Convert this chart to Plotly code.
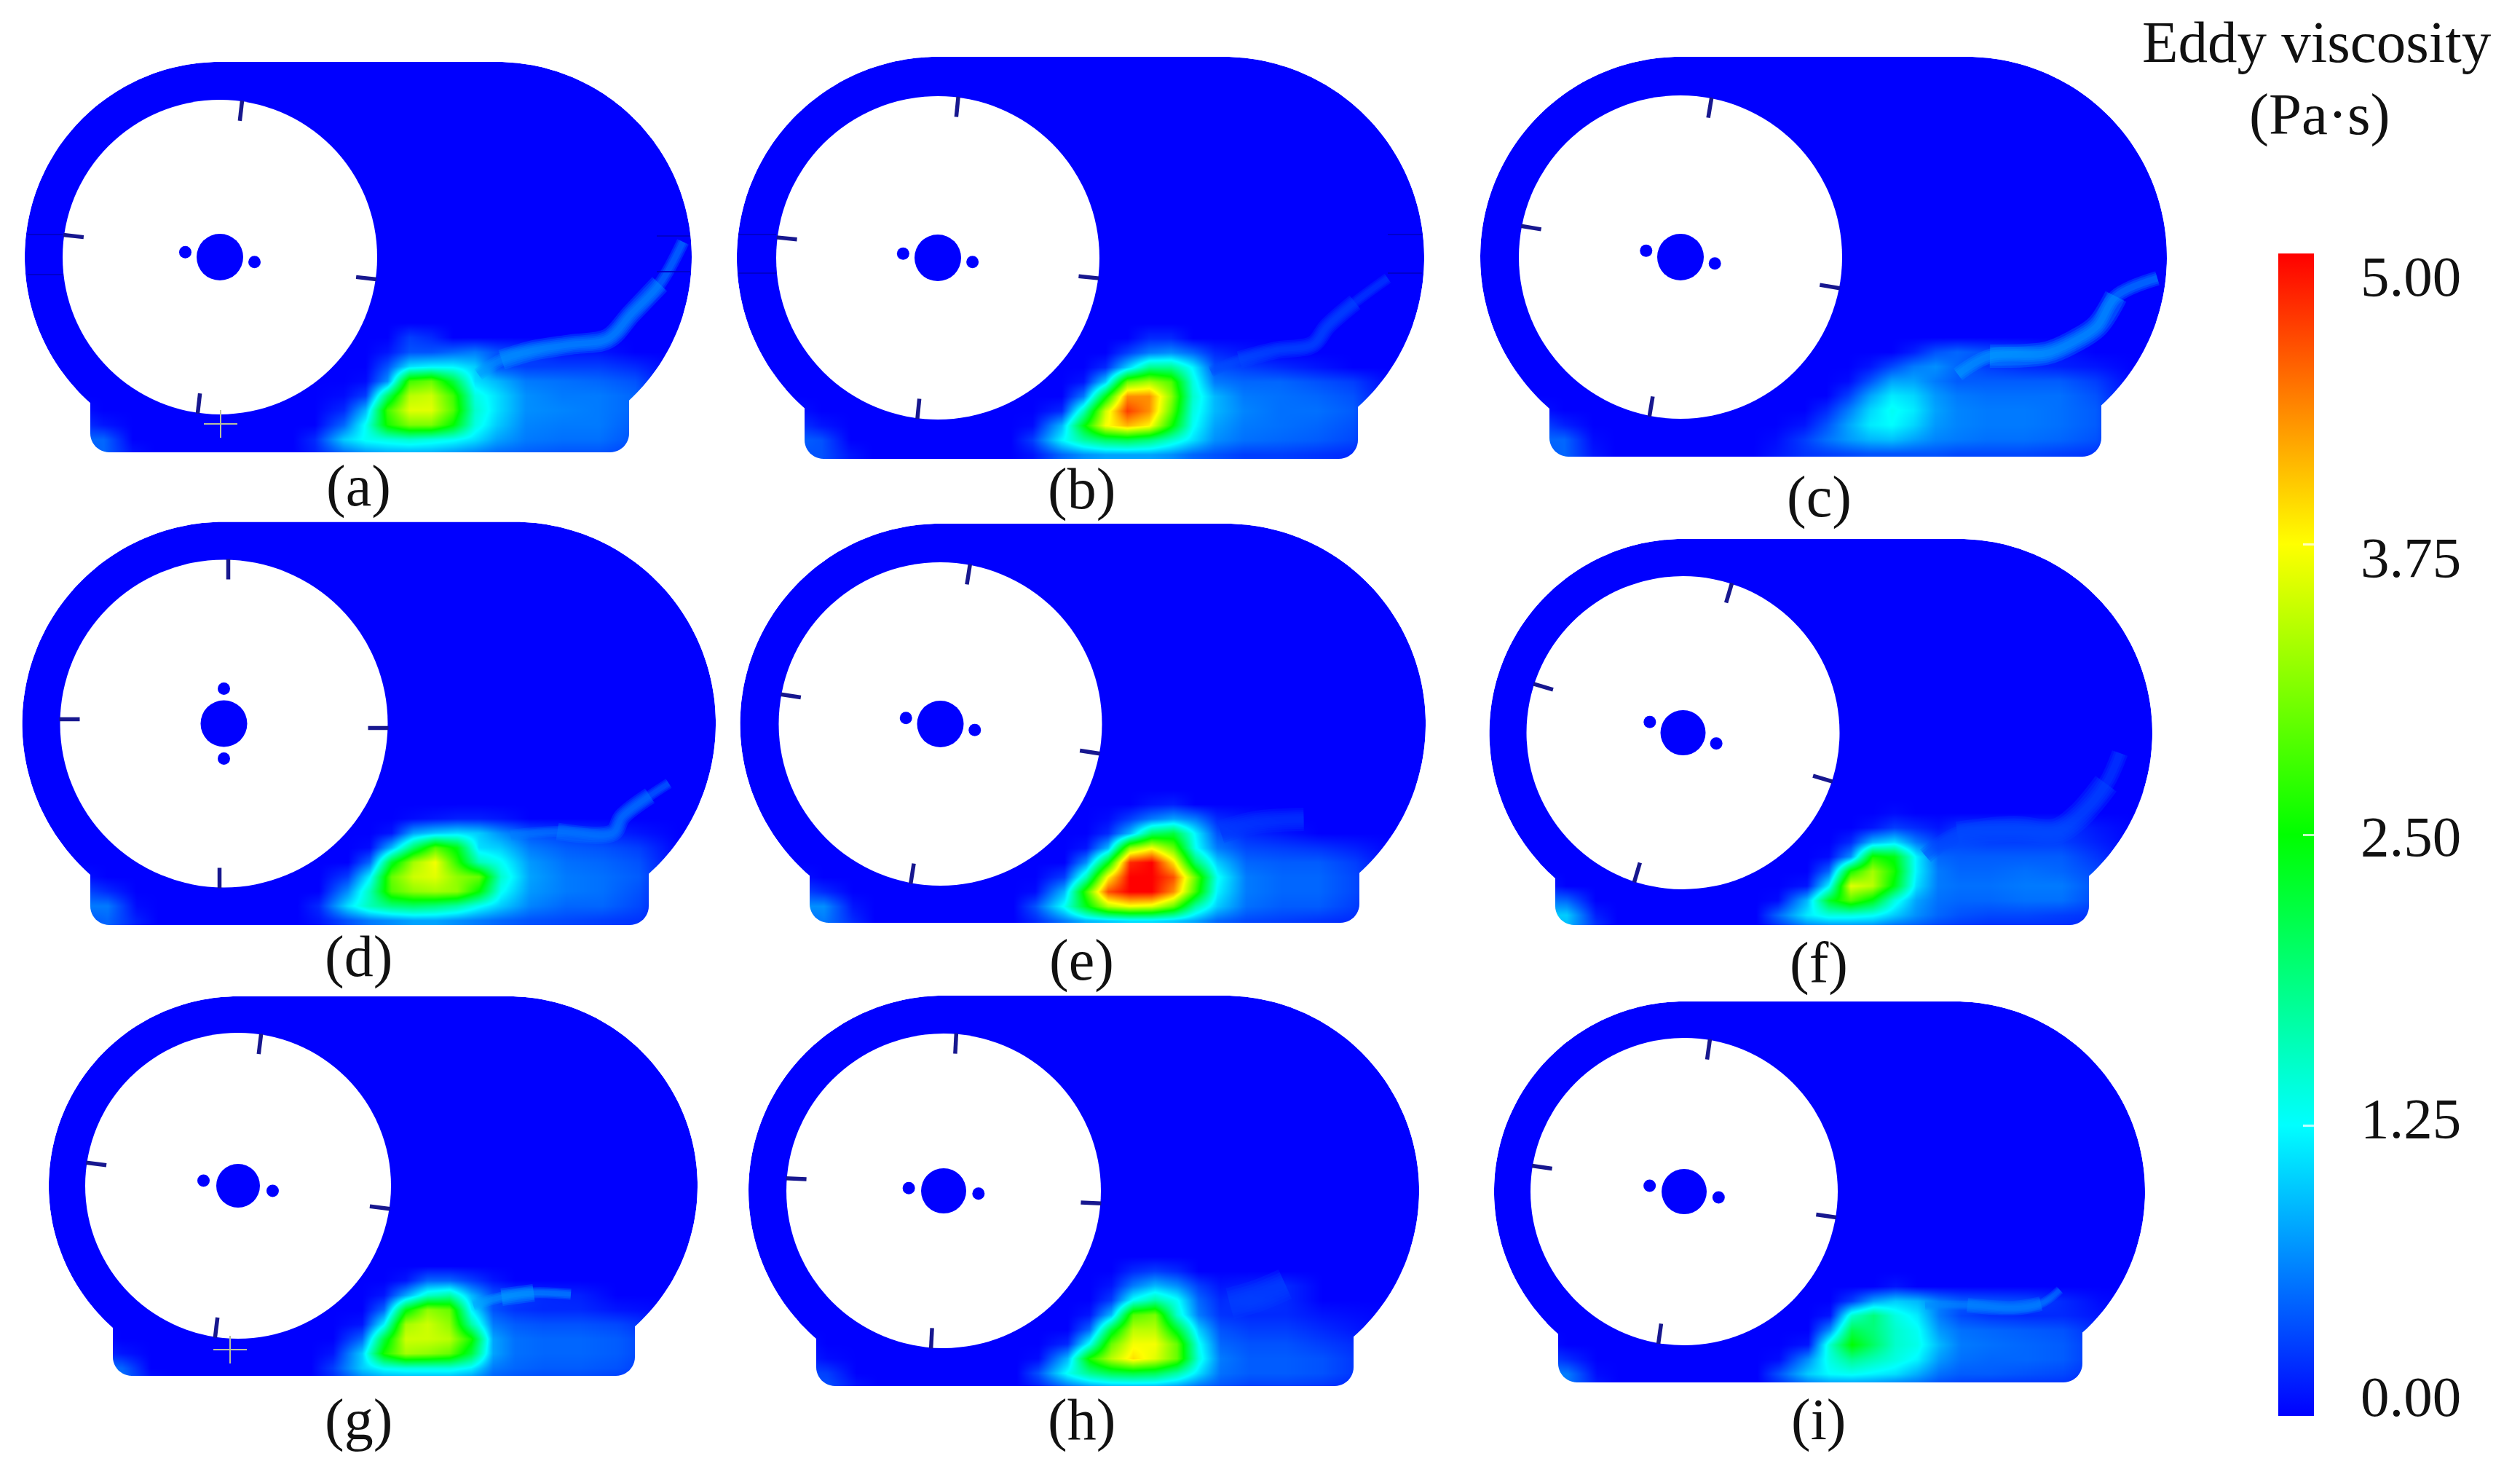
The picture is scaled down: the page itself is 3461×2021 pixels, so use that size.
import math
import plotly.graph_objects as go

# ---- data: eddy viscosity (Pa.s) ----
PANELS = ["a", "b", "c", "d", "e", "f", "g", "h", "i"]
CORE_X = [130, 170, 200, 230, 260, 290, 320, 350, 380, 420, 470, 520, 570]
CORE_Y = [110, 130, 150, 170, 190, 210, 230, 250, 270]
CORNER_X = [-200, -160, -120]
CORNER_Y = [210, 230, 250, 270]

core_a = [
    [0, 0, 0, 0, .3, .2, 0, 0, 0, 0, 0, 0, 0],
    [0, 0, 0, .1, .4, .4, .5, .6, .4, .3, .1, .1, 0],
    [0, 0, 0, .4, 1.1, 1.2, 1.2, 1.0, .4, .3, .3, .3, .2],
    [0, 0, .05, .7, 2.8, 3.0, 2.2, 1.1, .9, .6, .55, .5, .4],
    [0, .05, .3, 2.0, 3.4, 3.5, 2.8, 1.4, 1.1, .7, .6, .6, .5],
    [0, .2, .9, 2.8, 3.6, 3.6, 2.9, 1.5, 1.1, .7, .65, .6, .5],
    [0, .5, 1.3, 2.6, 3.1, 3.1, 2.5, 1.4, 1.0, .65, .6, .6, .45],
    [.2, 1.0, 1.3, 1.4, 1.5, 1.4, 1.3, 1.1, .8, .6, .55, .55, .4],
    [.15, .5, .7, .8, .8, .8, .7, .6, .5, .45, .4, .4, .3],
]
core_b = [
    [0, 0, 0, 0, 0, .2, .2, 0, 0, 0, 0, 0, 0],
    [0, 0, 0, 0, .3, .6, .7, .5, .2, .1, 0, 0, 0],
    [0, 0, 0, .2, 1.0, 1.8, 1.8, 1.2, .4, .3, .2, .1, 0],
    [0, 0, .1, 1.0, 3.0, 3.3, 2.9, 1.4, .6, .5, .5, .4, .3],
    [0, 0, .6, 2.4, 4.3, 4.3, 3.2, 1.5, .9, .6, .55, .5, .4],
    [0, .2, 1.6, 3.5, 4.7, 4.3, 3.0, 1.4, .9, .65, .55, .55, .45],
    [.05, .9, 2.4, 3.7, 4.1, 3.8, 2.6, 1.3, .8, .6, .55, .5, .4],
    [.3, 1.2, 1.7, 2.0, 2.1, 1.9, 1.5, 1.1, .7, .55, .5, .45, .35],
    [.1, .5, .7, .8, .8, .8, .7, .5, .4, .3, .3, .25, .2],
]
core_c = [
    [0, 0, 0, 0, 0, 0, 0, 0, 0, 0, 0, 0, 0],
    [0, 0, 0, 0, 0, 0, .15, .4, .5, .4, .3, .1, 0],
    [0, 0, 0, 0, .1, .35, .6, .7, .5, .3, .2, .15, .1],
    [0, 0, 0, .05, .4, .8, .8, .6, .45, .45, .45, .45, .3],
    [0, 0, 0, .3, .8, 1.15, 1.05, .75, .6, .55, .55, .55, .4],
    [0, 0, .2, .6, 1.05, 1.3, 1.15, .8, .65, .6, .6, .55, .45],
    [0, .1, .4, .8, 1.15, 1.25, 1.05, .75, .65, .6, .6, .55, .45],
    [.05, .3, .55, .75, .9, .95, .8, .65, .6, .55, .55, .5, .4],
    [.1, .25, .3, .35, .4, .4, .4, .4, .35, .35, .35, .3, .25],
]
core_d = [
    [0, 0, 0, 0, 0, 0, 0, 0, 0, 0, 0, 0, 0],
    [0, 0, 0, 0, .05, .1, .15, .15, .1, 0, 0, 0, 0],
    [0, 0, 0, .1, .8, 1.0, 1.1, 1.0, .7, .4, .3, .2, .1],
    [0, 0, .05, .9, 2.0, 2.9, 2.4, 1.1, 1.0, .6, .45, .4, .3],
    [0, 0, .5, 2.3, 3.3, 3.7, 2.7, 1.6, 1.3, .75, .55, .5, .4],
    [0, .3, 1.2, 3.0, 3.5, 3.6, 3.2, 3.0, 1.5, .8, .6, .55, .45],
    [0, .7, 1.6, 2.9, 3.2, 3.3, 3.2, 2.5, 1.3, .75, .6, .55, .4],
    [.2, 1.1, 1.6, 1.9, 2.0, 1.9, 1.7, 1.3, 1.0, .65, .5, .5, .35],
    [.1, .4, .6, .7, .8, .8, .7, .6, .5, .4, .35, .3, .25],
]
core_e = [
    [0, 0, 0, 0, 0, .1, .15, 0, 0, 0, 0, 0, 0],
    [0, 0, 0, .05, .3, .6, .8, .6, .2, .1, 0, 0, 0],
    [0, 0, 0, .2, .9, 2.0, 2.2, 1.2, .4, .2, .1, 0, 0],
    [0, 0, .1, .9, 3.2, 3.7, 3.0, 1.3, .6, .35, .3, .25, .15],
    [0, 0, .7, 2.4, 4.8, 5.0, 3.9, 2.0, 1.0, .5, .45, .45, .3],
    [0, .3, 1.6, 3.8, 5.0, 5.0, 4.6, 3.0, 1.3, .6, .5, .5, .35],
    [.05, .9, 2.8, 4.6, 5.0, 5.0, 4.3, 2.8, 1.2, .6, .5, .5, .35],
    [.4, 1.3, 2.4, 3.4, 3.7, 3.6, 3.0, 1.7, 1.0, .55, .45, .45, .3],
    [.2, .6, .9, 1.0, 1.1, 1.1, 1.0, .8, .5, .35, .3, .25, .2],
]
core_f = [
    [0, 0, 0, 0, 0, .05, 0, 0, 0, 0, 0, 0, 0],
    [0, 0, 0, 0, .1, .3, .2, .1, .25, .25, .25, .25, .1],
    [0, 0, 0, .2, .9, 1.1, .6, .3, .35, .3, .3, .3, .15],
    [0, 0, .05, .7, 2.6, 2.4, 1.2, .5, .45, .45, .45, .45, .25],
    [0, 0, .5, 2.6, 3.3, 2.6, 1.2, .6, .5, .5, .55, .5, .35],
    [0, .1, 1.2, 3.6, 3.4, 2.4, 1.1, .6, .55, .55, .6, .6, .4],
    [.05, .9, 2.3, 2.9, 2.4, 1.4, .8, .55, .5, .5, .55, .55, .35],
    [.5, 1.15, 1.4, 1.4, 1.3, 1.0, .7, .5, .4, .35, .35, .3, .25],
    [.2, .5, .5, .5, .5, .4, .4, .3, .25, .2, .2, .2, .15],
]
core_g = [
    [0, 0, 0, 0, 0, 0, 0, 0, 0, 0, 0, 0, 0],
    [0, 0, 0, .1, .5, .5, .3, .1, 0, 0, 0, 0, 0],
    [0, 0, .1, .8, 1.5, 1.7, .9, .4, .3, .2, .15, 0, 0],
    [0, 0, .5, 2.4, 3.2, 3.0, 1.2, .4, .25, .2, .2, .1, .05],
    [0, .1, 1.2, 3.3, 3.5, 3.2, 1.7, .6, .45, .4, .4, .35, .2],
    [0, .5, 2.2, 3.5, 3.5, 3.4, 2.6, .8, .55, .5, .5, .45, .3],
    [.1, 1.0, 2.6, 3.3, 3.2, 3.0, 2.2, .8, .55, .5, .5, .45, .3],
    [.3, 1.0, 1.3, 1.4, 1.4, 1.4, 1.2, .6, .5, .45, .45, .4, .25],
    [.15, .5, .6, .6, .6, .6, .5, .4, .35, .3, .3, .25, .15],
]
core_h = [
    [0, 0, 0, 0, .2, .3, .2, 0, 0, 0, 0, 0, 0],
    [0, 0, 0, .1, .6, .9, .7, .3, .1, .15, .2, 0, 0],
    [0, 0, 0, .3, 1.3, 1.7, 1.3, .5, .2, .3, .2, 0, 0],
    [0, 0, .1, .9, 2.9, 3.1, 1.5, .6, .25, .2, .2, .1, .05],
    [0, 0, .5, 2.2, 3.4, 3.4, 2.3, 1.0, .4, .3, .3, .2, .1],
    [0, .2, 1.3, 3.0, 3.7, 3.7, 3.0, 1.3, .5, .4, .4, .3, .2],
    [.05, .9, 2.6, 3.4, 3.9, 3.6, 3.0, 1.4, .6, .45, .45, .4, .25],
    [.4, 1.3, 1.8, 2.1, 2.2, 2.1, 1.7, 1.1, .55, .45, .45, .4, .25],
    [.15, .5, .7, .8, .8, .8, .7, .5, .4, .3, .3, .25, .15],
]
core_i = [
    [0, 0, 0, 0, 0, 0, 0, 0, 0, 0, 0, 0, 0],
    [0, 0, 0, 0, 0, .1, 0, 0, 0, 0, 0, 0, 0],
    [0, 0, 0, .3, .8, 1.0, .9, .6, .45, .4, .35, .2, .05],
    [0, 0, .1, 1.5, 1.9, 1.4, 1.15, .6, .35, .25, .2, .2, .1],
    [0, 0, .7, 2.1, 1.9, 1.5, 1.3, .75, .55, .5, .45, .4, .2],
    [0, .1, 1.5, 2.5, 2.0, 1.5, 1.35, .9, .6, .55, .5, .45, .25],
    [.05, .7, 1.4, 1.8, 1.6, 1.4, 1.2, .75, .55, .5, .5, .45, .25],
    [.4, 1.0, 1.25, 1.3, 1.2, 1.1, .85, .55, .45, .45, .4, .35, .2],
    [.15, .4, .5, .5, .5, .4, .4, .3, .25, .2, .2, .2, .1],
]
corner_a = [[.1, 0, 0], [.3, .1, 0], [.5, .5, 0], [.4, .5, .1]]
corner_b = [[.1, 0, 0], [.3, .1, 0], [.5, .4, 0], [.4, .4, .1]]
corner_c = [[.1, 0, 0], [.4, .15, 0], [.5, .5, .05], [.4, .5, .1]]
corner_d = [[.1, 0, 0], [.4, .2, 0], [.6, .6, .05], [.4, .5, .15]]
corner_e = [[.1, 0, 0], [.4, .2, 0], [.7, .7, .1], [.5, .6, .2]]
corner_f = [[.2, 0, 0], [.6, .5, 0], [1.0, 1.0, .15], [.8, .9, .3]]
corner_g = [[.1, 0, 0], [.3, .1, 0], [.6, .5, 0], [.5, .6, .1]]
corner_h = [[.1, 0, 0], [.2, .05, 0], [.4, .3, 0], [.4, .4, .1]]
corner_i = [[.1, 0, 0], [.4, .2, 0], [.7, .6, .05], [.5, .6, .15]]

# streak above the wake: [x offset, y offset] from the drum centre, its value and width
streak_a = [[355, 161], [387, 141], [431, 128], [482, 120], [533, 112], [565, 78], [604, 37], [636, -21]]
streak_b = [[375, 156], [414, 140], [464, 127], [515, 119], [535, 94], [573, 61], [618, 28]]
streak_c = [[381, 161], [425, 136], [502, 132], [540, 116], [572, 95], [598, 54], [655, 29]]
streak_d = [[394, 153], [458, 148], [534, 150], [547, 128], [585, 99], [611, 82]]
streak_e = [[385, 148], [435, 135], [499, 131]]
streak_f = [[333, 169], [377, 140], [454, 132], [511, 136], [543, 115], [581, 70], [600, 28]]
streak_g = [[323, 164], [362, 153], [406, 147], [457, 149]]
streak_h = [[393, 155], [431, 144], [469, 128]]
streak_i = [[331, 156], [389, 156], [452, 160], [490, 154], [516, 135]]
STREAK_VALUE = dict(a=.6, b=.3, c=.65, d=.5, e=.22, f=.3, g=.65, h=.25, i=.55)
STREAK_WIDTH = dict(a=14, b=12, c=16, d=12, e=16, f=18, g=12, h=22, i=10)

COLOR_TICKS = [0, 1.25, 2.5, 3.75, 5]
COLOR_LABELS = ["0.00", "1.25", "2.50", "3.75", "5.00"]

# ---- layout of the drawing (pixels of the 3461 x 2021 page) ----
# cx, cy, hole R, outer R, right-arc cx, sump left, sump right, bottom, blade angle, dots angle, hub R
GEOM = dict(
    a=(302, 353, 216, 268, 682, 124, 864, 621, 6.5, 8, 32),
    b=(1288, 354, 222, 276, 1680, 1105, 1865, 630, 5.7, 7, 32),
    c=(2308, 353, 222, 275, 2701, 2128, 2886, 627, 9.5, 10.5, 32),
    d=(307.5, 993.5, 225, 277, 706, 124, 891, 1270, 0, 90, 32),
    e=(1291.5, 994, 222, 275, 1683, 1112, 1867, 1267, 9, 10, 32),
    f=(2311.5, 1006, 215, 266, 2690, 2136, 2869, 1270, 16.5, 18, 31),
    g=(327, 1628, 210, 260, 698, 155, 872, 1889, 7, 8.5, 30),
    h=(1296, 1635, 216, 268, 1681, 1121, 1859, 1903, 3, 4.5, 31),
    i=(2313, 1636, 211, 261, 2685, 2140, 2860, 1898, 8, 9.5, 31),
)
LABEL_POS = dict(a=(492, 667), b=(1485, 671), c=(2498, 682), d=(492, 1313), e=(1485, 1318),
                 f=(2498, 1322), g=(492, 1949), h=(1485, 1949), i=(2498, 1949))
CROSSES = {"a": (1, 229), "g": (-11, 225)}
# faint mesh-block marks on the housing: x0, x1 of the segment, y of both edges
FAINT = {"a": [(38, 86, 322, 377), (902, 948, 324, 373)], "b": [(1014, 1066, 322, 375), (1906, 1953, 322, 375)]}
BLUE = "#0000ff"
TICK_BLUE = "#17178f"
SERIF = "Liberation Serif, Times New Roman, serif"
SCALE = [[0, "#0000ff"], [.25, "#00ffff"], [.5, "#00ff00"], [.75, "#ffff00"], [1, "#ff0000"]]
SCALE_RGB = [(0, 0, 255), (0, 255, 255), (0, 255, 0), (255, 255, 0), (255, 0, 0)]


def value_color(v):
    t = max(0, min(.9999, v / 5)) * 4
    k = int(t)
    f = t - k
    a, b = SCALE_RGB[k], SCALE_RGB[k + 1]
    return "rgb(%d,%d,%d)" % tuple(a[j] + (b[j] - a[j]) * f for j in range(3))


def outline(g):
    cx, cy, _, R, rcx, sl, sr, bot = g[:8]
    pts = []
    a0 = math.atan2(math.sqrt(max(R * R - (cx - sl) ** 2, 0)), sl - cx)
    a1 = 1.5 * math.pi
    n = 90
    for i in range(n + 1):
        a = a0 + (a1 - a0) * i / n
        pts.append((cx + R * math.cos(a), cy + R * math.sin(a)))
    b1 = math.atan2(math.sqrt(max(R * R - (sr - rcx) ** 2, 0)), sr - rcx)
    for i in range(n + 1):
        a = -math.pi / 2 + (b1 + math.pi / 2) * i / n
        pts.append((rcx + R * math.cos(a), cy + R * math.sin(a)))
    c = 26
    for i in range(13):
        a = i / 12 * math.pi / 2
        pts.append((sr - c + c * math.cos(a), bot - c + c * math.sin(a)))
    for i in range(13):
        a = math.pi / 2 + i / 12 * math.pi / 2
        pts.append((sl + c + c * math.cos(a), bot - c + c * math.sin(a)))
    return pts


def path_of(pts):
    return "M " + " L ".join("%.1f,%.1f" % p for p in pts) + " Z"


fig = go.Figure()
shapes = []
annotations = []
for p in PANELS:
    g = GEOM[p]
    cx, cy, r_hole, R, rcx, sl, sr, bot, blade, dots, hub = g
    body = outline(g)
    shapes.append(dict(type="path", path=path_of(body), fillcolor=BLUE, line_width=0, layer="below"))

    core = globals()["core_" + p]
    z = [[0] * (len(CORE_X) + 2)] + [[0] + r + [0] for r in core]
    fig.add_trace(go.Heatmap(
        x=[cx + v for v in [100] + CORE_X + [625]],
        y=[cy + v for v in [90] + CORE_Y],
        z=z, zsmooth="best", coloraxis="coloraxis", hoverinfo="skip"))
    corner = globals()["corner_" + p]
    z2 = [[0] * (len(CORNER_X) + 1)] + [r + [0] for r in corner]
    fig.add_trace(go.Heatmap(
        x=[cx + v for v in CORNER_X + [-90]],
        y=[cy + v for v in [190] + CORNER_Y],
        z=z2, zsmooth="best", coloraxis="coloraxis", hoverinfo="skip"))

    st = globals()["streak_" + p]
    v, w = STREAK_VALUE[p], STREAK_WIDTH[p]
    color = value_color(v * 1.25)
    for wf, trim in ((2.0, 1), (1.6, 1), (1.25, 0), (.9, 0), (.55, 0)):
        part = st[trim:len(st) - trim] if len(st) - 2 * trim >= 2 else st
        fig.add_trace(go.Scatter(
            x=[cx + q[0] for q in part], y=[cy + q[1] for q in part], mode="lines", opacity=.25,
            hoverinfo="skip", showlegend=False,
            line=dict(color=color, width=w * wf, shape="spline")))

    # white outside the housing, clipping the field to its outline
    pad = 30
    x0 = min(q[0] for q in body) - pad
    x1 = max(q[0] for q in body) + pad
    y0 = min(q[1] for q in body) - pad
    y1 = max(q[1] for q in body) + pad
    rect = [(x0, y0), (x1, y0), (x1, y1), (x0, y1)]
    shapes.append(dict(type="path", path=path_of(rect) + " " + path_of(body), fillcolor="white",
                       fillrule="evenodd", line_width=0, layer="above"))
    shapes.append(dict(type="circle", x0=cx - r_hole, x1=cx + r_hole, y0=cy - r_hole, y1=cy + r_hole,
                       fillcolor="white", line_width=0, layer="above"))
    shapes.append(dict(type="circle", x0=cx - hub, x1=cx + hub, y0=cy - hub, y1=cy + hub,
                       fillcolor=BLUE, line_width=0, layer="above"))
    d = 48
    for s in (-1, 1):
        px = cx + s * d * math.cos(math.radians(dots))
        py = cy + s * d * math.sin(math.radians(dots))
        shapes.append(dict(type="circle", x0=px - 8.5, x1=px + 8.5, y0=py - 8.5, y1=py + 8.5,
                           fillcolor=BLUE, line_width=0, layer="above"))
    for k in range(4):
        th = math.radians(blade + 90 * k)
        ux, uy = math.sin(th), -math.cos(th)
        tx, ty = math.cos(th), math.sin(th)
        t = 6
        ax, ay = cx + ux * (r_hole + 1) + tx * t, cy + uy * (r_hole + 1) + ty * t
        bx, by = cx + ux * (r_hole - 27) + tx * t, cy + uy * (r_hole - 27) + ty * t
        shapes.append(dict(type="line", x0=ax, y0=ay, x1=bx, y1=by, layer="above",
                           line=dict(color=TICK_BLUE, width=5.5)))
    if p in CROSSES:
        ox, oy = CROSSES[p]
        shapes.append(dict(type="line", x0=cx + ox - 23, x1=cx + ox + 23, y0=cy + oy, y1=cy + oy,
                           layer="above", line=dict(color="#b9bfa0", width=2)))
        shapes.append(dict(type="line", x0=cx + ox, x1=cx + ox, y0=cy + oy - 19, y1=cy + oy + 19,
                           layer="above", line=dict(color="#b9bfa0", width=2)))
    for fx0, fx1, fy0, fy1 in FAINT.get(p, []):
        for fy in (fy0, fy1):
            shapes.append(dict(type="line", x0=fx0, x1=fx1, y0=fy, y1=fy, layer="above",
                               line=dict(color="#0000cc", width=2)))
    lx, ly = LABEL_POS[p]
    annotations.append(dict(x=lx, y=ly, text="(%s)" % p, showarrow=False, xanchor="center", yanchor="middle",
                            font=dict(family=SERIF, size=80, color="#111111")))

BAR_TOP, BAR_BOTTOM = 348, 1944
LABEL_Y = [1917, 1535, 1148, 765, 379]
for lab, y in zip(COLOR_LABELS, LABEL_Y):
    annotations.append(dict(x=3311, y=y, text=lab, showarrow=False, xanchor="center", yanchor="middle",
                            font=dict(family=SERIF, size=79, color="#111111")))
annotations.append(dict(x=3182, y=58, text="Eddy viscosity", showarrow=False, xanchor="center", yanchor="middle",
                        font=dict(family=SERIF, size=81, color="#111111")))
annotations.append(dict(x=3185, y=157, text="(Pa·s)", showarrow=False, xanchor="center", yanchor="middle",
                        font=dict(family=SERIF, size=81, color="#111111")))

fig.update_layout(
    width=3461, height=2021, margin=dict(l=0, r=0, t=0, b=0),
    paper_bgcolor="white", plot_bgcolor="white", showlegend=False,
    xaxis=dict(range=[0, 3461], visible=False, fixedrange=True),
    yaxis=dict(range=[2021, 0], visible=False, fixedrange=True),
    shapes=shapes, annotations=annotations,
    coloraxis=dict(
        cmin=0, cmax=5, colorscale=SCALE,
        colorbar=dict(
            x=3129 / 3461, xanchor="left", xpad=0, y=1 - BAR_TOP / 2021, yanchor="top", ypad=0,
            lenmode="pixels", len=BAR_BOTTOM - BAR_TOP, thicknessmode="pixels", thickness=49,
            outlinewidth=0, tickvals=COLOR_TICKS[1:4], ticks="inside", ticklen=15, tickwidth=3,
            tickcolor="rgba(255,255,255,0.75)", showticklabels=False,
        ),
    ),
)
fig.write_html("out.html", config=dict(displayModeBar=False), post_script="document.body.style.margin='0';")
